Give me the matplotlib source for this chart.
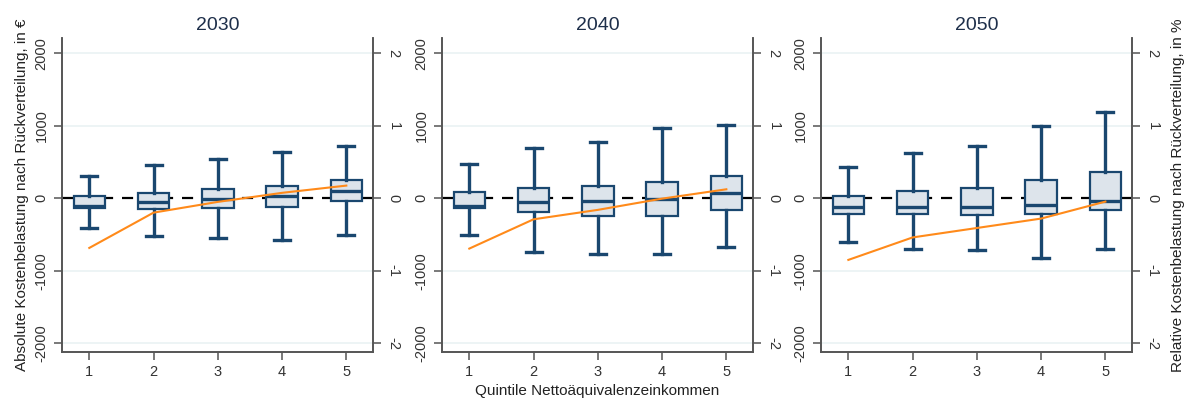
import matplotlib
matplotlib.use("Agg")
import matplotlib.pyplot as plt

plt.rcParams['font.family'] = ['Liberation Sans', 'DejaVu Sans']

years = ["2030", "2040", "2050"]
quintiles = [1, 2, 3, 4, 5]

# Absolute burden after redistribution (EUR): box statistics per quintile
whisker_low = {
    "2030": [-410, -525, -545, -580, -510],
    "2040": [-510, -735, -768, -768, -667],
    "2050": [-598, -703, -713, -823, -703],
}
q1 = {
    "2030": [-138, -147, -138, -115, -41],
    "2040": [-138, -193, -239, -244, -156],
    "2050": [-211, -221, -225, -221, -166],
}
median = {
    "2030": [-106, -46, -14, 37, 101],
    "2040": [-106, -55, -41, -14, 78],
    "2050": [-115, -115, -115, -92, -37],
}
q3 = {
    "2030": [32, 78, 124, 175, 248],
    "2040": [92, 147, 166, 230, 308],
    "2050": [28, 97, 138, 248, 363],
}
whisker_high = {
    "2030": [308, 460, 538, 639, 722],
    "2040": [474, 694, 782, 970, 1016],
    "2050": [428, 625, 726, 998, 1195],
}
# Relative burden after redistribution (%)
relative = {
    "2030": [-0.685, -0.198, -0.05, 0.075, 0.175],
    "2040": [-0.694, -0.29, -0.16, -0.005, 0.124],
    "2050": [-0.85, -0.54, -0.41, -0.28, -0.046],
}

left_ticks = [-2000, -1000, 0, 1000, 2000]
right_ticks = [-2, -1, 0, 1, 2]

navy = "#1a476f"
box_fill = "#dde4eb"
orange = "#ff8a1a"
grid_col = "#eaf2f3"
spine_col = "#555555"
tick_col = "#333333"

fig = plt.figure(figsize=(11.95, 3.99), dpi=100)
lefts = [0.0516, 0.3696, 0.6868]
width, bottom, height = 0.2608, 0.1186, 0.7862

for i, yr in enumerate(years):
    ax = fig.add_axes([lefts[i], bottom, width, height])
    ax.set_xlim(0.57, 5.42)
    ax.set_ylim(-2116, 2211)
    for t in left_ticks:
        if t != 0:
            ax.axhline(t, color=grid_col, lw=1.2, zorder=0)
    ax.axhline(0, color="black", lw=1.6, ls=(0, (5, 4)), zorder=1)

    stats = []
    for j in range(len(quintiles)):
        stats.append(dict(med=median[yr][j], q1=q1[yr][j], q3=q3[yr][j],
                          whislo=whisker_low[yr][j], whishi=whisker_high[yr][j],
                          fliers=[]))
    ax.bxp(stats, positions=quintiles, widths=0.49, patch_artist=True,
           showfliers=False,
           boxprops=dict(facecolor=box_fill, edgecolor=navy, linewidth=1.6),
           medianprops=dict(color=navy, linewidth=2.4),
           whiskerprops=dict(color=navy, linewidth=2.4),
           capprops=dict(color=navy, linewidth=2.4),
           capwidths=0.25, zorder=2)
    ax.set_xticks(quintiles)
    ax.set_xticklabels([str(q) for q in quintiles])
    ax.set_yticks(left_ticks)
    ax.set_yticklabels([str(t) for t in left_ticks], rotation=90, va="center")

    # Relative burden on a secondary axis, drawn above the boxes
    ax2 = ax.twinx()
    ax2.set_ylim(-2.116, 2.211)
    ax2.plot(quintiles, relative[yr], color=orange, lw=1.5, zorder=3)
    ax2.set_yticks(right_ticks)
    ax2.set_yticklabels([str(t) for t in right_ticks], rotation=-90, va="center")

    for a in (ax, ax2):
        a.spines["top"].set_visible(False)
        for s in ("left", "right", "bottom"):
            a.spines[s].set_color(spine_col)
            a.spines[s].set_linewidth(1.2)
        a.tick_params(colors=spine_col, labelcolor=tick_col, labelsize=10.5,
                      length=6, width=1.1)

    ax.set_title(yr, fontsize=14, color="#1e2f4a", pad=6)
    if i == 0:
        ax.set_ylabel("Absolute Kostenbelastung nach Rückverteilung, in €",
                      fontsize=11, color="#222222", labelpad=4)
    if i == 1:
        ax.set_xlabel("Quintile Nettoäquivalenzeinkommen", fontsize=11,
                      color="#222222", labelpad=4)
    if i == 2:
        ax2.set_ylabel("Relative Kostenbelastung nach Rückverteilung, in %",
                       fontsize=11, color="#222222", rotation=90, labelpad=8)

fig.savefig("out.png", dpi=100)
